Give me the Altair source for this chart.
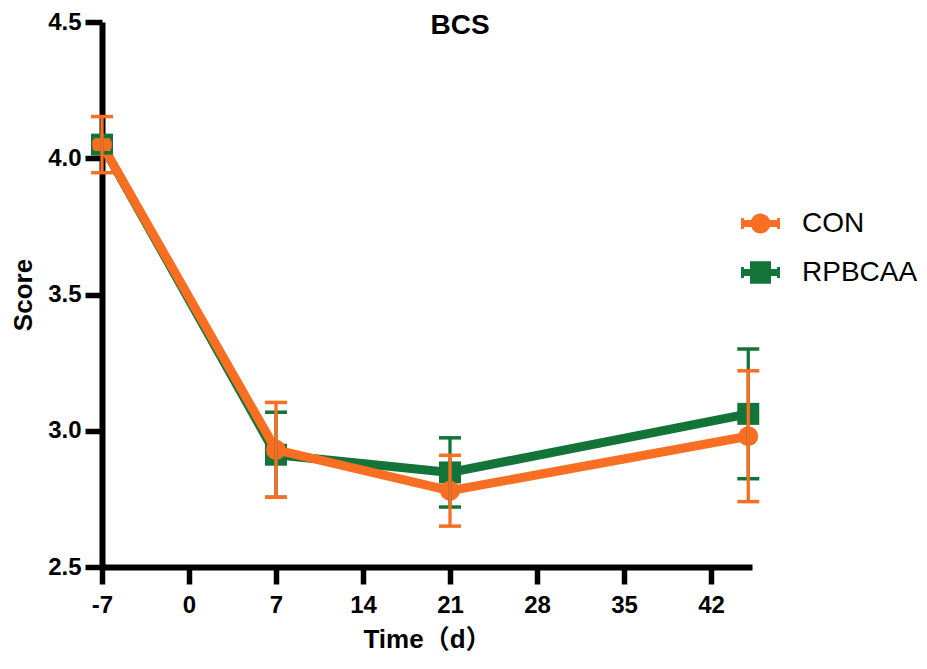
import altair as alt
import pandas as pd

# ---- data ----
days = [-7, 7, 21, 45]
groups = ["CON", "RPBCAA"]
con_mean = [4.05, 2.93, 2.78, 2.98]
con_sem = [0.103, 0.174, 0.13, 0.24]
rp_mean = [4.05, 2.912, 2.847, 3.062]
rp_sem = [0.03, 0.156, 0.127, 0.238]
x_ticks = [-7, 0, 7, 14, 21, 28, 35, 42]
y_ticks = [2.5, 3.0, 3.5, 4.0, 4.5]
colors = ["#F86E23", "#13743A"]

rows = []
for g, means, sems in [("CON", con_mean, con_sem), ("RPBCAA", rp_mean, rp_sem)]:
    for d, m, s in zip(days, means, sems):
        rows.append({"group": g, "day": d, "mean": m, "lo": m - s, "hi": m + s})
df = pd.DataFrame(rows)

FONT = "Liberation Sans, Arial, Noto Sans CJK SC"

xaxis = alt.Axis(values=x_ticks, title="Time（d）", labelFontSize=24, labelPadding=9,
                 titleFontSize=26, titlePadding=9, labelFlush=False, labelOverlap=False,
                 labelExpr="'' + datum.value")
yaxis = alt.Axis(values=y_ticks, format=".1f", title="Score", labelFontSize=24, labelPadding=4,
                 titleFontSize=26, titlePadding=11, labelFlush=False, labelOverlap=False)
xscale = alt.Scale(domain=[-7, 45.3], nice=False, zero=False)
yscale = alt.Scale(domain=[2.5, 4.5], nice=False, zero=False)


def xe():
    return alt.X("day:Q", scale=xscale, axis=xaxis)


def ye(field):
    return alt.Y(field, scale=yscale, axis=yaxis)


base = alt.Chart(df)
layers = []
# lines + markers, green series first so orange is drawn on top
for g, col, shp, sz in [("RPBCAA", colors[1], "square", 484), ("CON", colors[0], "circle", 400)]:
    sub = base.transform_filter(alt.datum.group == g)
    layers.append(sub.mark_line(color=col, strokeWidth=9).encode(x=xe(), y=ye("mean:Q")))
    layers.append(sub.mark_point(shape=shp, size=sz, filled=True, opacity=1, color=col)
                  .encode(x=xe(), y=ye("mean:Q")))
# error bars
for g, col in [("RPBCAA", colors[1]), ("CON", colors[0])]:
    sub = base.transform_filter(alt.datum.group == g)
    layers.append(sub.mark_rule(color=col, strokeWidth=3.3, opacity=1)
                  .encode(x=xe(), y=ye("lo:Q"), y2="hi:Q"))
    layers.append(sub.mark_tick(color=col, orient="horizontal", size=22, thickness=3.5, opacity=1)
                  .encode(x=xe(), y=ye("lo:Q")))
    layers.append(sub.mark_tick(color=col, orient="horizontal", size=22, thickness=3.5, opacity=1)
                  .encode(x=xe(), y=ye("hi:Q")))

# legend symbols: line with marker (legend-only layer, draws no data)
path_con = ("M-1,-0.28H-0.85V-0.18H0.85V-0.28H1V0.28H0.85V0.18H-0.85V0.28H-1Z "
            "M0.51,0A0.51,0.51 0 1,1 -0.51,0A0.51,0.51 0 1,1 0.51,0Z")
path_rp = ("M-1,-0.28H-0.85V-0.18H-0.54V-0.58H0.54V-0.18H0.85V-0.28H1V0.28H0.85V0.18"
           "H0.54V0.58H-0.54V0.18H-0.85V0.28H-1Z")
leg = alt.Legend(orient="none", legendX=639, legendY=182, title=None, symbolSize=1521,
                 symbolStrokeWidth=0, labelFontSize=28, labelFont=FONT, labelFontWeight="normal",
                 labelColor="black", labelOffset=22, rowPadding=15, padding=0)
layers.append(base.transform_filter("false").mark_point(filled=True, opacity=1).encode(
    x=xe(), y=ye("mean:Q"),
    color=alt.Color("group:N", scale=alt.Scale(domain=groups, range=colors), legend=leg),
    shape=alt.Shape("group:N", scale=alt.Scale(domain=groups, range=[path_con, path_rp]), legend=leg),
))

chart = alt.layer(*layers).properties(
    width=650, height=545,
    title=alt.TitleParams("BCS", fontSize=28, fontWeight="bold", font=FONT, anchor="middle",
                          dx=33, offset=0, dy=30, color="black"),
    autosize=alt.AutoSizeParams(type="none"),
    padding={"left": 94, "top": 14, "right": 167, "bottom": 89},
).configure_view(stroke=None).configure_axis(
    grid=False, domainColor="black", domainWidth=6, tickColor="black", tickWidth=5.5,
    tickSize=17, labelColor="black", labelFont=FONT, labelFontWeight="bold",
    titleFont=FONT, titleFontWeight="bold", titleColor="black",
)

chart.save("out.html", embed_options={"renderer": "svg", "actions": False})
